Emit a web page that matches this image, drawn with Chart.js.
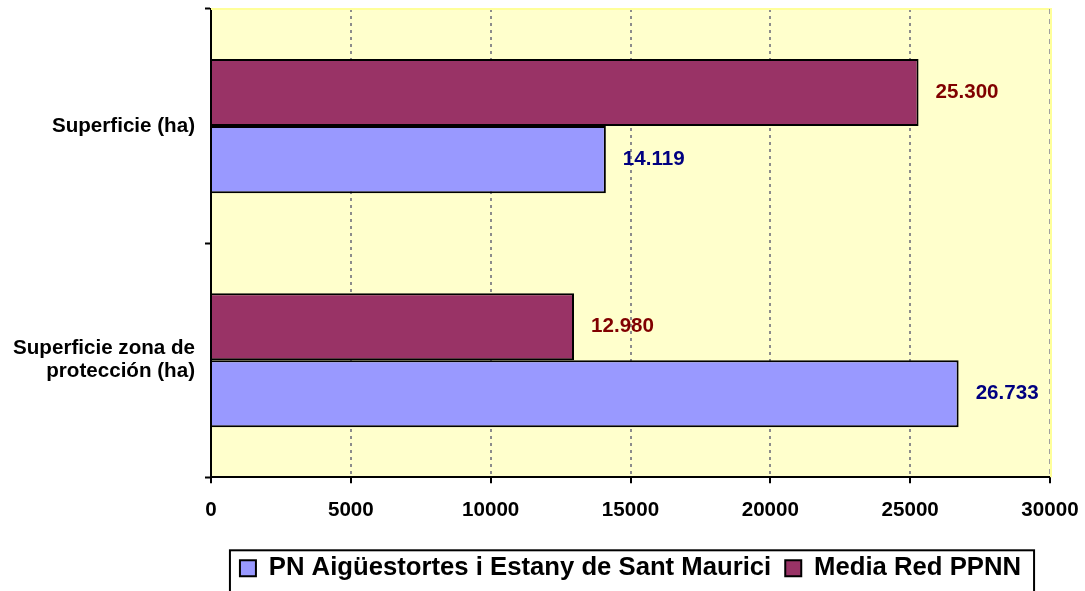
<!DOCTYPE html>
<html>
<head>
<meta charset="utf-8">
<script src="https://cdn.jsdelivr.net/npm/chart.js@4/dist/chart.umd.min.js"></script>
<style>
  body { margin: 0; background: #ffffff; }
</style>
</head>
<body>
<canvas id="grafico" width="1085" height="591"></canvas>
<script>
// datos
var categorias = ["Superficie (ha)", ["Superficie zona de", "protección (ha)"]];
var serieParque = [14119, 26733];
var serieMedia = [25300, 12980];
var nombreParque = "PN Aigüestortes i Estany de Sant Maurici";
var nombreMedia = "Media Red PPNN";
var ejeMin = 0, ejeMax = 30000, ejePaso = 5000;

var fuente = "'Liberation Sans', Arial, sans-serif";

function formato(v) {
    return String(v).replace(/\B(?=(\d{3})+(?!\d))/g, ".");
}

// fondo amarillo del area de trazado
var fondo = {
    id: 'fondo',
    beforeDraw: function (chart) {
        var a = chart.chartArea, ctx = chart.ctx;
        ctx.save();
        ctx.fillStyle = '#FFFFCC';
        ctx.fillRect(a.left, a.top, a.right - a.left, a.bottom - a.top);
        ctx.restore();
    }
};

// etiquetas de valor y marcos
var extras = {
    id: 'extras',
    afterDatasetsDraw: function (chart) {
        var ctx = chart.ctx;
        ctx.save();
        ctx.font = "bold 20.6px " + fuente;
        ctx.textAlign = 'left';
        ctx.textBaseline = 'middle';
        chart.data.datasets.forEach(function (ds, i) {
            var meta = chart.getDatasetMeta(i);
            meta.data.forEach(function (el, j) {
                ctx.fillStyle = ds.etiquetaColor;
                ctx.fillText(formato(ds.data[j]), el.x + 17, el.y);
            });
        });
        ctx.restore();
    },
    afterDraw: function (chart) {
        var ctx = chart.ctx, a = chart.chartArea;
        ctx.save();
        // borde superior y derecho del area
        ctx.strokeStyle = '#FFFF99';
        ctx.lineWidth = 2;
        ctx.beginPath();
        ctx.moveTo(a.left, a.top);
        ctx.lineTo(a.right + 1, a.top);
        ctx.lineTo(a.right + 1, a.bottom);
        ctx.stroke();
        ctx.strokeStyle = '#A0A0A0';
        ctx.lineWidth = 1;
        ctx.setLineDash([5, 5]);
        ctx.beginPath();
        ctx.moveTo(a.right - 0.5, a.top);
        ctx.lineTo(a.right - 0.5, a.bottom);
        ctx.stroke();
        ctx.setLineDash([]);
        // marco de la leyenda
        var lg = chart.legend, hb = lg.legendHitBoxes;
        if (hb && hb.length) {
            var izq = hb[0].left - 10;
            var ult = hb[hb.length - 1];
            var der = ult.left + ult.width + 13;
            var arr = hb[0].top - 5;
            ctx.strokeStyle = '#000000';
            ctx.lineWidth = 2;
            ctx.strokeRect(izq, arr, der - izq, chart.height - arr + 10);
        }
        ctx.restore();
    }
};

new Chart(document.getElementById('grafico'), {
    type: 'bar',
    data: {
        labels: categorias,
        datasets: [
            {
                label: nombreMedia,
                data: serieMedia,
                backgroundColor: '#993366',
                borderColor: '#000000',
                borderWidth: 2,
                etiquetaColor: '#800000'
            },
            {
                label: nombreParque,
                data: serieParque,
                backgroundColor: '#9999FF',
                borderColor: '#000000',
                borderWidth: 2,
                etiquetaColor: '#000080'
            }
        ]
    },
    options: {
        indexAxis: 'y',
        responsive: false,
        animation: false,
        devicePixelRatio: 1,
        categoryPercentage: 0.573,
        barPercentage: 1,
        layout: { padding: { top: 9, right: 35, left: 0, bottom: 0 } },
        scales: {
            x: {
                min: ejeMin,
                max: ejeMax,
                ticks: {
                    stepSize: ejePaso,
                    color: '#000000',
                    padding: 15,
                    font: { family: fuente, size: 20.6, weight: 'bold' },
                    callback: function (v) { return String(v); }
                },
                grid: {
                    color: function (c) {
                        var v = c.tick ? c.tick.value : null;
                        return (v === ejeMin || v === ejeMax) ? 'rgba(0,0,0,0)' : '#8C8C8C';
                    },
                    lineWidth: 2,
                    tickColor: '#000000',
                    tickLength: 6,
                    tickWidth: 2
                },
                border: { color: '#000000', width: 2, dash: [3, 4] },
                afterFit: function (s) {
                    s.height = 64;
                    s.paddingLeft = 0;
                    s.paddingRight = 0;
                }
            },
            y: {
                ticks: {
                    color: '#000000',
                    padding: 10,
                    font: { family: fuente, size: 20.6, weight: 'bold', lineHeight: 1.12 }
                },
                grid: {
                    offset: true,
                    drawOnChartArea: false,
                    tickColor: '#000000',
                    tickLength: 6,
                    tickWidth: 2
                },
                border: { color: '#000000', width: 2 },
                afterFit: function (s) {
                    s.width = 211;
                    s.paddingTop = 0;
                    s.paddingBottom = 0;
                }
            }
        },
        plugins: {
            legend: {
                position: 'bottom',
                fullSize: false,
                reverse: true,
                labels: {
                    color: '#000000',
                    boxWidth: 16,
                    boxHeight: 16,
                    padding: 14,
                    font: { family: fuente, size: 25.7, weight: 'bold', lineHeight: 1.0 }
                }
            },
            tooltip: { enabled: false }
        }
    },
    plugins: [fondo, extras]
});
</script>
</body>
</html>
